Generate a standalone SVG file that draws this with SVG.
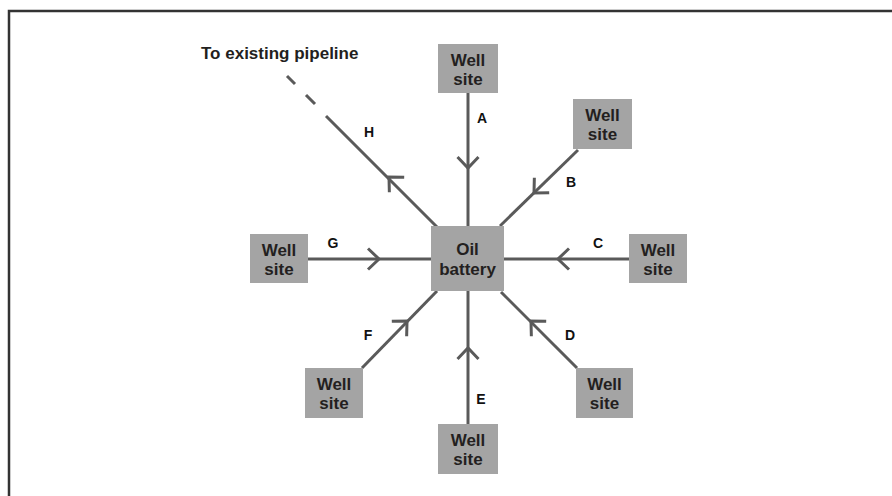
<svg xmlns="http://www.w3.org/2000/svg" width="892" height="496" viewBox="0 0 892 496">
<style>
.box{fill:#a4a4a4}
.t{font-family:"Liberation Sans",Arial,sans-serif;font-weight:bold;font-size:17px;fill:#231f20;text-anchor:middle}
.lbl{font-family:"Liberation Sans",Arial,sans-serif;font-weight:bold;font-size:14px;fill:#111;text-anchor:middle}
.ln{stroke:#5a5a5a;stroke-width:3;fill:none}
.frame{stroke:#333;stroke-width:2.5;fill:none}
</style>
<defs>
<path id="chev" d="M-11,-10.5 L0,0 L-11,10.5" class="ln"/>
</defs>
<rect width="892" height="496" fill="#fff"/>
<path class="frame" d="M9,496 V11 H892"/>
<g id="connectors">
  <path class="ln" d="M468,93 V226"/>
  <path class="ln" d="M578,150 L500,226"/>
  <path class="ln" d="M504,259 H629"/>
  <path class="ln" d="M501,292 L577,368"/>
  <path class="ln" d="M468,291 V424"/>
  <path class="ln" d="M362,368 L437,291"/>
  <path class="ln" d="M308,259 H431"/>
  <path class="ln" d="M437,227 L326,116"/>
  <path class="ln" d="M315,104 L306,95 M295,84 L287,76"/>
  <use href="#chev" transform="translate(468,168) rotate(90)"/>
  <use href="#chev" transform="translate(534,193) rotate(135)"/>
  <use href="#chev" transform="translate(558,259) rotate(180)"/>
  <use href="#chev" transform="translate(531,321) rotate(225)"/>
  <use href="#chev" transform="translate(468,348) rotate(270)"/>
  <use href="#chev" transform="translate(407,321) rotate(315)"/>
  <use href="#chev" transform="translate(379,259)"/>
  <use href="#chev" transform="translate(389,177) rotate(225)"/>
  <text class="lbl" x="482" y="123">A</text>
  <text class="lbl" x="571" y="187">B</text>
  <text class="lbl" x="598" y="248">C</text>
  <text class="lbl" x="570" y="340">D</text>
  <text class="lbl" x="481" y="404">E</text>
  <text class="lbl" x="368" y="340">F</text>
  <text class="lbl" x="333" y="248">G</text>
  <text class="lbl" x="369" y="137">H</text>
</g>
<g id="pipeline-label">
  <text class="t" x="201" y="59" style="text-anchor:start">To existing pipeline</text>
</g>
<g id="oil-battery">
  <rect class="box" x="431" y="226" width="73" height="65"/>
  <text class="t" x="467.5" y="255">Oil</text>
  <text class="t" x="467.5" y="275">battery</text>
</g>
<g id="well-a">
  <rect class="box" x="438" y="44" width="60" height="49"/>
  <text class="t" x="468" y="66">Well</text>
  <text class="t" x="468" y="85">site</text>
</g>
<g id="well-b">
  <rect class="box" x="573" y="99" width="59" height="50"/>
  <text class="t" x="602.5" y="121">Well</text>
  <text class="t" x="602.5" y="140">site</text>
</g>
<g id="well-c">
  <rect class="box" x="629" y="234" width="58" height="49"/>
  <text class="t" x="658" y="256">Well</text>
  <text class="t" x="658" y="275">site</text>
</g>
<g id="well-d">
  <rect class="box" x="576" y="368" width="57" height="50"/>
  <text class="t" x="604.5" y="390">Well</text>
  <text class="t" x="604.5" y="409">site</text>
</g>
<g id="well-e">
  <rect class="box" x="438" y="424" width="60" height="50"/>
  <text class="t" x="468" y="446">Well</text>
  <text class="t" x="468" y="465">site</text>
</g>
<g id="well-f">
  <rect class="box" x="305" y="368" width="58" height="50"/>
  <text class="t" x="334" y="390">Well</text>
  <text class="t" x="334" y="409">site</text>
</g>
<g id="well-g">
  <rect class="box" x="250" y="234" width="58" height="49"/>
  <text class="t" x="279" y="256">Well</text>
  <text class="t" x="279" y="275">site</text>
</g>
</svg>
